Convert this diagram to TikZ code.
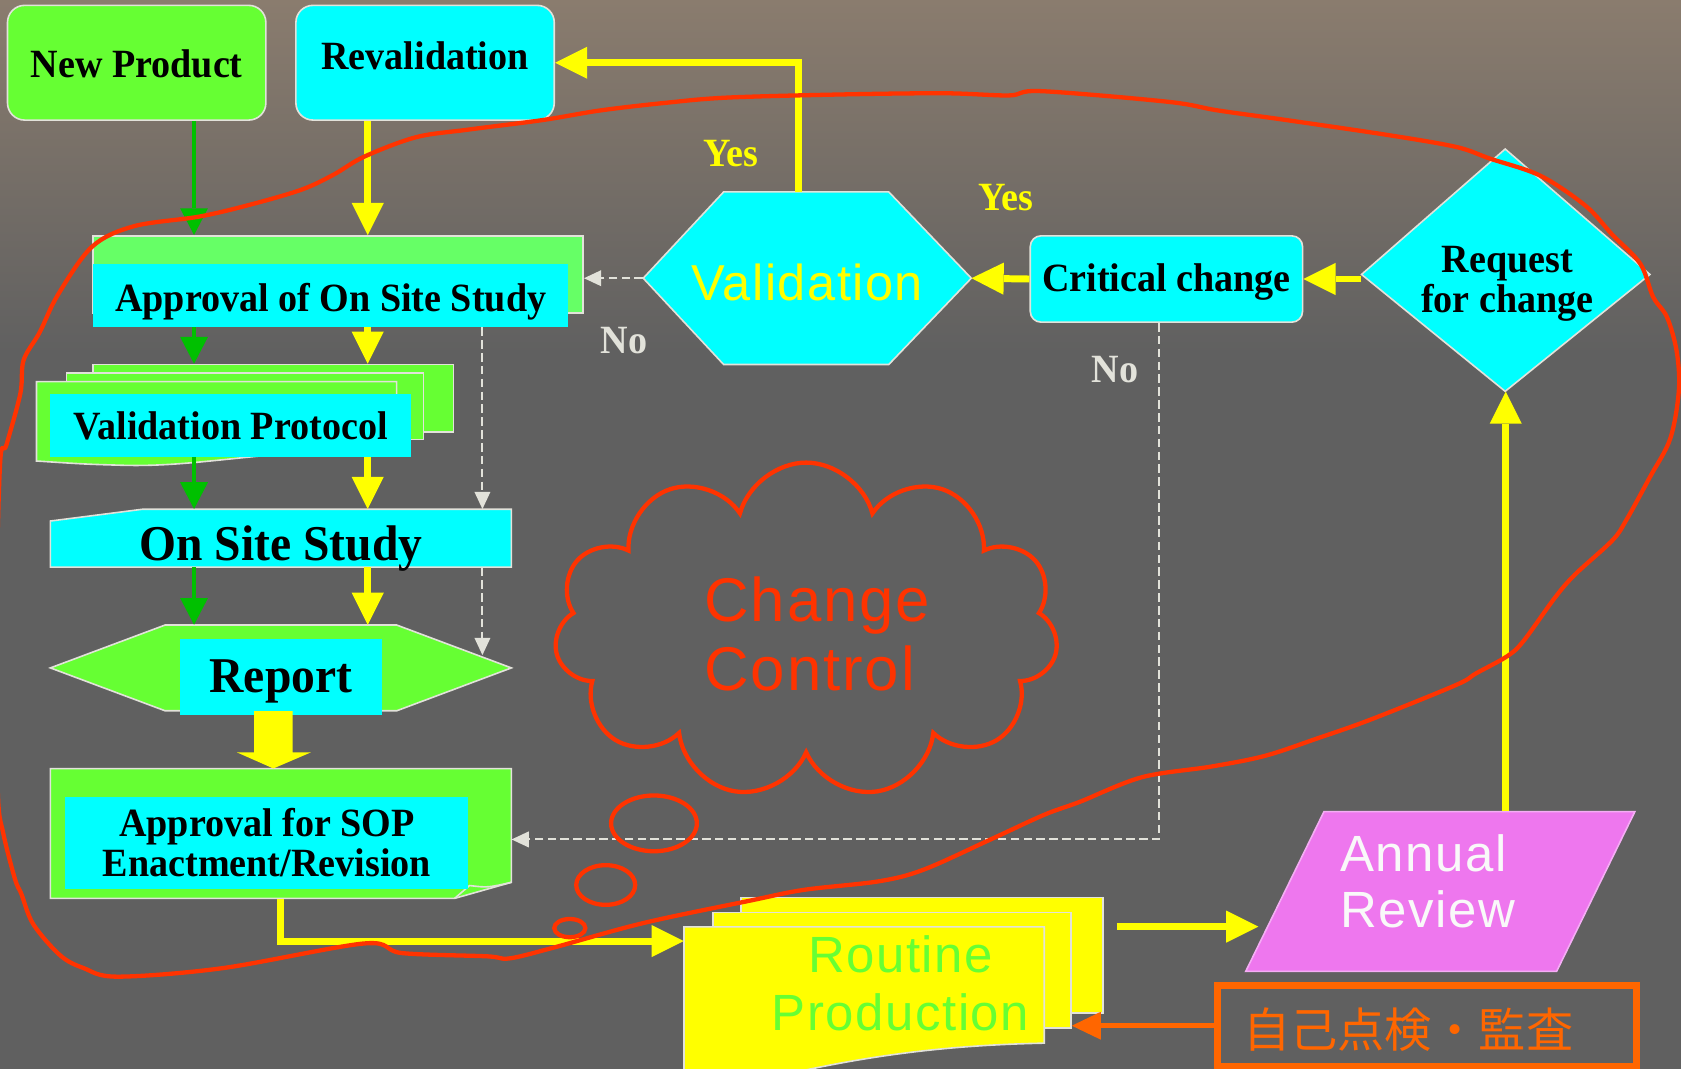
\documentclass[tikz,border=0pt]{standalone}
\usepackage{fontspec}
\setmainfont{Liberation Serif}[FakeStretch=0.95]
\newfontfamily\arialfont{Liberation Sans}[LetterSpace=3]
\newfontfamily\jpfont{Noto Sans CJK JP}
\usetikzlibrary{arrows.meta,shapes.geometric,shapes.symbols,calc}

\definecolor{bgtop}{HTML}{8A7C6E}
\definecolor{bggray}{HTML}{606060}
\definecolor{leafgreen}{HTML}{66FF33}
\definecolor{paleleaf}{HTML}{66FF66}
\definecolor{boxcyan}{HTML}{00FFFF}
\definecolor{sunyellow}{HTML}{FFFF00}
\definecolor{arrowgreen}{HTML}{00C000}
\definecolor{markred}{HTML}{FF3300}
\definecolor{auditorange}{HTML}{FF6600}
\definecolor{reviewpink}{HTML}{EE77EE}
\definecolor{edgegray}{HTML}{E2E2DA}

\newcommand{\boxfont}{\bfseries\fontsize{37.4}{37.5}\selectfont}
\newcommand{\bigboxfont}{\bfseries\fontsize{46.7}{50}\selectfont}

\tikzset{
    lightedge/.style={draw=edgegray, line width=1.5pt},
    roundbox/.style={
           rectangle,
           rounded corners=16pt,
           lightedge,
           inner sep=0pt,
           text centered,
           text depth=0pt,
           font=\boxfont,
           },
    cyanbox/.style={
           rectangle,
           fill=boxcyan,
           inner sep=0pt,
           text centered,
           text depth=0pt,
           font=\boxfont,
           },
    slot/.style={rectangle, inner sep=0pt},
    docbox/.style={rectangle, fill=leafgreen, lightedge, inner sep=0pt},
    answer/.style={anchor=base, inner sep=0pt, font=\boxfont},
    bubble/.style={ellipse, draw=markred, line width=4pt, inner sep=0pt},
    yelarrow/.style={draw=sunyellow, line width=6.5pt,
           -{Triangle[length=30pt,width=30pt,line width=0pt]}},
    grnarrow/.style={draw=arrowgreen, line width=4.5pt,
           -{Triangle[length=25pt,width=26pt,line width=0pt]}},
    dasharrow/.style={draw=edgegray, line width=1.8pt, dash pattern=on 8pt off 4pt,
           -{Triangle[length=16pt,width=15pt,line width=0pt]}},
    orgarrow/.style={draw=auditorange, line width=4.5pt,
           -{Triangle[length=27pt,width=26pt,line width=0pt]}},
}

\begin{document}
\begin{tikzpicture}[x=1pt,y=-1pt]

 \useasboundingbox (0,0) rectangle (1568,997);
 \shade[top color=bgtop, bottom color=bggray] (0,0) rectangle (1568,330);
 \fill[bggray] (0,329) rectangle (1568,997);

 \coordinate (gx) at (181,0);
 \coordinate (yx) at (343,0);
 \coordinate (nx) at (450,0);
 \coordinate (vx) at (745,0);
 \coordinate (dx) at (1081,0);

 \node[roundbox, fill=leafgreen, minimum width=241, minimum height=107,
   text height=28pt] (newp) at (127.5,58.5) {New Product};
 \node[roundbox, fill=boxcyan, minimum width=241, minimum height=107,
   text height=12.4pt] (reval) at (396.5,58.5) {Revalidation};

 \node[docbox, fill=paleleaf, minimum width=457, minimum height=72] (appdoc) at (315.5,256) {};
 \node[cyanbox, minimum width=443, minimum height=59,
   text height=30.4pt] (apptxt) at (308.5,275.5) {Approval of On Site Study};

 \node[docbox, minimum width=336, minimum height=63] (vpback) at (255,371.5) {};
 \node[docbox, minimum width=333, minimum height=62] (vpmid) at (228.5,379) {};
 \filldraw[fill=leafgreen, lightedge] (34,356) -- (370,356) -- (370,420)
   .. controls (250,418) and (190,436) .. (115,434) .. controls (80,433) .. (34,430) -- cycle;
 \node[cyanbox, minimum width=336, minimum height=58.5,
   text height=27.3pt] (vptxt) at (215,396.75) {Validation Protocol};

 \filldraw[fill=boxcyan, lightedge] (47,486) -- (133,475) -- (477,475) -- (477,529) -- (47,529) -- cycle;
 \node[slot, minimum width=430, minimum height=54, text height=40.8pt, text depth=0pt,
   font=\bigboxfont] (onsite) at (262,502) {On Site Study};

 \filldraw[fill=leafgreen, lightedge] (47,623) -- (154,583) -- (370,583) -- (477,623)
   -- (370,663) -- (154,663) -- cycle;
 \node[slot, minimum width=430, minimum height=80] (rephex) at (262,623) {};
 \node[cyanbox, font=\bigboxfont, minimum width=188, minimum height=71,
   text height=29pt] (report) at (262,631.5) {Report};

 \filldraw[fill=leafgreen, lightedge] (47,717) -- (477,717) -- (477,823) -- (424,838) -- (47,838) -- cycle;
 \draw[lightedge] (424,838) -- (438,826) .. controls (455,828) .. (477,823);
 \node[slot, minimum width=430, minimum height=121] (sopdoc) at (262,777.5) {};
 \node[cyanbox, align=center, minimum width=376, minimum height=86] (soptxt) at (249,786)
   {Approval for SOP\\Enactment/Revision};

 \filldraw[fill=boxcyan, lightedge] (600,259.5) -- (675,179) -- (829,179) -- (906,259.5)
   -- (829,340) -- (675,340) -- cycle;
 \node[slot, minimum width=306, minimum height=161, text=sunyellow,
   font=\arialfont\fontsize{47.1}{50}\selectfont,
   text height=41.6pt, text depth=0pt] (valid) at (753,259.5) {Validation};

 \node[roundbox, fill=boxcyan, rounded corners=10pt, minimum width=254, minimum height=80.5,
   text height=24.1pt] (crit) at (1088,260.25) {Critical change};

 \filldraw[fill=boxcyan, lightedge] (1404,139) -- (1539,256) -- (1404,365) -- (1270,256) -- cycle;
 \node[slot, minimum width=269, minimum height=226] (req) at (1404.5,252) {};
 \node[slot, align=center, font=\boxfont] (reqtxt) at (1406,265) {Request\\for change};

 \node[docbox, fill=sunyellow, minimum width=338, minimum height=108] (rtback) at (860,891) {};
 \node[docbox, fill=sunyellow, minimum width=334, minimum height=108] (rtmid) at (832,905) {};
 \filldraw[fill=sunyellow, lightedge] (638,1010) -- (638,864.5) -- (974,864.5) -- (974,973)
   .. controls (880,975) and (800,985) .. (700,1010) -- cycle;
 \node[slot, minimum width=336, minimum height=125] (rtfront) at (806,927) {};
 \node[slot, align=center, text=leafgreen,
   font=\arialfont\fontsize{47.5}{53.8}\selectfont] (rttxt) at (840,917) {Routine\\Production};

 \filldraw[fill=reviewpink, draw=reviewpink!60!white, line width=1.5pt]
   (1162,906) -- (1235,757) -- (1525,757) -- (1452,906) -- cycle;
 \node[slot, minimum width=363, minimum height=149] (annbox) at (1343.5,831.5) {};
 \node[slot, anchor=west, align=left, text=white!95!gray,
   font=\arialfont\fontsize{47.5}{52.8}\selectfont] (anntxt) at (1250,822) {Annual\\Review};

 \node[rectangle, draw=auditorange, line width=6.5pt, minimum width=391, minimum height=75.5,
   inner sep=0pt] (audit) at (1331,956.75) {};
 \node[slot, text=auditorange, font=\jpfont\fontsize{44}{44}\selectfont] (audittxt)
   at (1313.5,960.5) {自己点検・監査};

 \draw[grnarrow] (newp.south -| gx) -- (appdoc.north -| gx);
 \draw[yelarrow] (reval.south -| yx) -- (appdoc.north -| yx);
 \draw[grnarrow] (apptxt.south -| gx) -- (vpback.north -| gx);
 \draw[yelarrow] (apptxt.south -| yx) -- (vpback.north -| yx);
 \draw[grnarrow] (vptxt.south -| gx) -- (onsite.north -| gx);
 \draw[yelarrow] (vptxt.south -| yx) -- (onsite.north -| yx);
 \draw[grnarrow] (onsite.south -| gx) -- (rephex.north -| gx);
 \draw[yelarrow] (onsite.south -| yx) -- (rephex.north -| yx);

 \fill[sunyellow] ($(rephex.south)+(-25,0)$) -- ($(rephex.south)+(11,0)$)
   -- ($(sopdoc.north)+(11,-15)$) -- ($(sopdoc.north)+(28,-15)$) -- ($(sopdoc.north)+(-7,0)$)
   -- ($(sopdoc.north)+(-41,-15)$) -- ($(sopdoc.north)+(-25,-15)$) -- cycle;

 \draw[yelarrow] (sopdoc.south) |- ([yshift=-13.5pt]rtfront.north west);
 \draw[yelarrow] ($(rtback.east |- rtfront.north)+(12,0)$) -- ($(annbox.west |- rtfront.north)+(12,0)$);
 \draw[yelarrow] (annbox.north -| req.south) -- (req.south);
 \draw[yelarrow] (req.west |- crit.east) -- (crit.east);
 \draw[yelarrow] (crit.west) -- (valid.east);
 \draw[yelarrow] (valid.north -| vx) |- (reval.east);
 \draw[orgarrow] (audit.west) -- (audit.west -| rtmid.east);

 \coordinate (repedge) at (450,611);
 \draw[dasharrow] (valid.west) -- (valid.west -| appdoc.east);
 \draw[dasharrow] (crit.south -| dx) |- ([yshift=-5.5pt]sopdoc.east);
 \draw[dasharrow] (apptxt.south -| nx) -- (onsite.north -| nx);
 \draw[dasharrow] (onsite.south -| nx) -- (repedge);

 \node[answer, text=sunyellow] (yestop) at (682,155.5) {Yes};
 \node[answer, text=sunyellow] (yesmid) at (938,196) {Yes};
 \node[answer, text=edgegray] (nomid) at (582,329.6) {No};
 \node[answer, text=edgegray] (nolow) at (1040,356.6) {No};

 \node[cloud, cloud puffs=11, aspect=1.5, draw=markred, line width=4pt,
   minimum width=470, minimum height=313] (cloud) at (752,588) {};
 \node[slot, anchor=west, align=left, text=markred,
   font=\arialfont\fontsize{57.6}{64}\selectfont] (cctxt) at (657,591.5) {Change\\Control};
 \node[bubble, minimum width=80, minimum height=52] (bubbig) at (610,768) {};
 \node[bubble, minimum width=55, minimum height=37] (bubmid) at (565,825.5) {};
 \node[bubble, minimum width=29, minimum height=17] (bubsmall) at (531.5,865.7) {};

 \draw[markred, line width=4pt, line join=round] plot[smooth cycle, tension=0.55] coordinates {
   (-4,600) (0,434) (6,415) (19,367) (22,336) (37,310) (54,275) (86,230) (125,211)
   (186,202) (233,191) (281,177) (311,163) (340,146) (388,128) (436,121) (506,112)
   (560,103) (620,96) (679,91) (790,88) (882,87) (941,89) (971,85) (1090,95) (1136,103)
   (1200,112) (1295,126) (1358,137) (1390,148) (1437,164) (1479,192) (1504,219)
   (1530,246) (1542,277) (1555,296) (1564,328) (1566,364) (1558,409) (1539,445)
   (1517,485) (1504,504) (1469,536) (1450,558) (1421,598) (1406,612) (1377,628)
   (1358,639) (1279,671) (1228,689) (1180,705) (1130,715) (1065,725) (1007,748)
   (974,760) (924,783) (862,811) (820,822) (750,830) (700,840) (600,861) (516,884)
   (475,894) (454,892) (375,889) (340,880) (208,903) (110,911) (78,903) (56,891)
   (31,862) (20,834) (14,820) (3,777) (-2,740)};

\end{tikzpicture}
\end{document}
